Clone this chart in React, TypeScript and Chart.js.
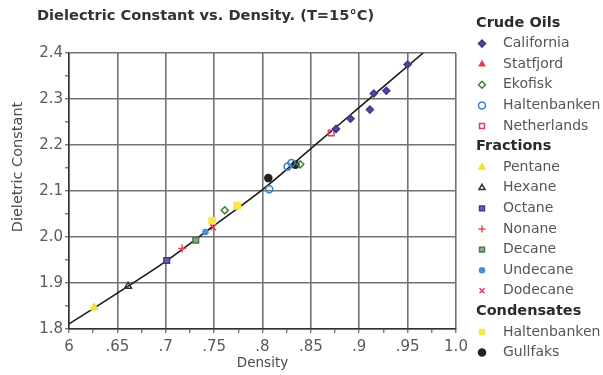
import React, { useEffect, useRef } from 'react';
import { Chart, registerables } from 'chart.js';
import { drawPoint } from 'chart.js/helpers';

Chart.register(...registerables);

// ---- data ----
const california = [[0.876, 2.235], [0.891, 2.257], [0.911, 2.277], [0.915, 2.312], [0.928, 2.318], [0.950, 2.375]];
const statfjord: number[][] = [];
const ekofisk = [[0.761, 2.058], [0.839, 2.158]];
const haltenbankenCrude = [[0.807, 2.104], [0.826, 2.153], [0.830, 2.161]];
const netherlands = [[0.871, 2.226]];
const pentane = [[0.626, 1.847]];
const hexane = [[0.661, 1.893]];
const octane = [[0.701, 1.949]];
const nonane = [[0.717, 1.975]];
const decane = [[0.731, 1.993]];
const undecane = [[0.741, 2.011]];
const dodecane = [[0.749, 2.021]];
const haltenbankenCond = [[0.748, 2.035], [0.774, 2.068]];
const gullfaks = [[0.806, 2.128], [0.834, 2.157]];

const fitX = [0.6, 0.65, 0.7, 0.75, 0.8, 0.85, 0.9, 0.966];
const fitY = [1.811, 1.878, 1.947, 2.025, 2.103, 2.192, 2.282, 2.4];

const xMajorTicks = [0.6, 0.65, 0.7, 0.75, 0.8, 0.85, 0.9, 0.95, 1.0];
const xTickLabels = ['6', '.65', '.7', '.75', '.8', '.85', '.9', '.95', '1.0'];
const xMinorTicks = [0.625, 0.675, 0.725, 0.775, 0.825, 0.875, 0.925, 0.975];
const yMajorTicks = [1.8, 1.9, 2.0, 2.1, 2.2, 2.3, 2.4];
const yTickLabels = ['1.8', '1.9', '2.0', '2.1', '2.2', '2.3', '2.4'];
const yMinorTicks = [1.85, 1.95, 2.05, 2.15, 2.25, 2.35];

const titleText = 'Dielectric Constant vs. Density. (T=15°C)';
const xTitle = 'Density';
const yTitle = 'Dieletric Constant';

const groups = [
  { heading: 'Crude Oils', items: ['California', 'Statfjord', 'Ekofisk', 'Haltenbanken', 'Netherlands'] },
  { heading: 'Fractions', items: ['Pentane', 'Hexane', 'Octane', 'Nonane', 'Decane', 'Undecane', 'Dodecane'] },
  { heading: 'Condensates', items: ['Haltenbanken ', 'Gullfaks'] },
];

const FONT = '"DejaVu Sans", sans-serif';

const pts = (arr: number[][]) => arr.map(([x, y]) => ({ x, y }));

const near = (list: number[], v: number) => list.findIndex((m) => Math.abs(m - v) < 1e-6);

const series = [
  { label: 'California', data: california, style: 'rectRot', fill: '#4b4b9c', stroke: '#3c3c8a', r: 3.5 },
  { label: 'Statfjord', data: statfjord, style: 'triangle', fill: '#e8384a', stroke: '#e8384a', r: 3 },
  { label: 'Ekofisk', data: ekofisk, style: 'rectRot', fill: 'rgba(0,0,0,0)', stroke: '#3f7f3f', r: 3.5 },
  { label: 'Haltenbanken', data: haltenbankenCrude, style: 'circle', fill: 'rgba(0,0,0,0)', stroke: '#3f7fc4', r: 3.5 },
  { label: 'Netherlands', data: netherlands, style: 'rect', fill: 'rgba(0,0,0,0)', stroke: '#d4405e', r: 4 },
  { label: 'Pentane', data: pentane, style: 'triangle', fill: '#f5e22a', stroke: '#f5e22a', r: 4 },
  { label: 'Hexane', data: hexane, style: 'triangle', fill: 'rgba(0,0,0,0)', stroke: '#333333', r: 4 },
  { label: 'Octane', data: octane, style: 'rect', fill: '#6a5fb8', stroke: '#3c3c8a', r: 4 },
  { label: 'Nonane', data: nonane, style: 'cross', fill: '#e84848', stroke: '#e84848', r: 4 },
  { label: 'Decane', data: decane, style: 'rect', fill: '#8fae8f', stroke: '#4f7a4f', r: 4 },
  { label: 'Undecane', data: undecane, style: 'circle', fill: '#4a8ad8', stroke: '#4a8ad8', r: 2.5 },
  { label: 'Dodecane', data: dodecane, style: 'crossRot', fill: '#e83a5a', stroke: '#e83a5a', r: 4 },
  { label: 'Haltenbanken ', data: haltenbankenCond, style: 'rect', fill: '#f8e84a', stroke: '#f8e84a', r: 4.5 },
  { label: 'Gullfaks', data: gullfaks, style: 'circle', fill: '#222222', stroke: '#222222', r: 3.5 },
];

const overlay = {
  id: 'overlay',
  afterDraw(chart: any) {
    const ctx = chart.ctx as CanvasRenderingContext2D;
    const area = chart.chartArea;
    ctx.save();
    ctx.textBaseline = 'middle';
    ctx.textAlign = 'left';
    ctx.fillStyle = '#333';
    ctx.font = `bold 14.6px ${FONT}`;
    ctx.fillText(titleText, 37, 16);

    // axis titles
    ctx.fillStyle = '#4a4a4a';
    ctx.font = `13.5px ${FONT}`;
    ctx.textAlign = 'center';
    ctx.fillText(xTitle, (area.left + area.right) / 2, 363);
    ctx.save();
    ctx.translate(18, 167);
    ctx.rotate(-Math.PI / 2);
    ctx.font = `14.5px ${FONT}`;
    ctx.fillText(yTitle, 0, 0);
    ctx.restore();

    ctx.textAlign = 'left';
    const step = 20.6;
    let y = 23;
    groups.forEach((g) => {
      ctx.fillStyle = '#2b2b2b';
      ctx.font = `bold 14.5px ${FONT}`;
      ctx.fillText(g.heading, 476, y);
      y += step;
      g.items.forEach((name) => {
        const ds = chart.data.datasets.find((d: any) => d.label === name);
        if (ds) {
          ctx.save();
          ctx.fillStyle = ds.backgroundColor;
          ctx.strokeStyle = ds.borderColor;
          ctx.lineWidth = 1.5;
          drawPoint(ctx, { pointStyle: ds.pointStyle, rotation: 0, radius: Math.min(ds.pointRadius, 3.5), borderWidth: 1.5 }, 482, y);
          ctx.restore();
        }
        ctx.fillStyle = '#555';
        ctx.font = `14px ${FONT}`;
        ctx.fillText(name.trim(), 503, y);
        y += step;
      });
    });
    ctx.restore();
  },
};

export default function App() {
  const ref = useRef<HTMLCanvasElement>(null);
  useEffect(() => {
    const datasets: any[] = series.map((s) => ({
      type: 'scatter',
      label: s.label,
      data: pts(s.data),
      pointStyle: s.style,
      backgroundColor: s.fill,
      borderColor: s.stroke,
      pointRadius: s.r,
      pointBorderWidth: 1.5,
    }));
    datasets.push({
      type: 'line',
      label: 'fit',
      data: fitX.map((x, i) => ({ x, y: fitY[i] })),
      borderColor: '#1a1a1a',
      borderWidth: 1.6,
      pointRadius: 0,
      tension: 0.3,
      fill: false,
      order: 10,
    });
    const chart = new Chart(ref.current!, {
      type: 'scatter',
      data: { datasets },
      options: {
        responsive: false,
        animation: false,
        layout: { padding: { top: 53, right: 147, left: 0, bottom: 0 } },
        plugins: { legend: { display: false }, title: { display: false }, tooltip: { enabled: false } },
        scales: {
          x: {
            type: 'linear',
            min: 0.6,
            max: 1.0,
            afterFit: (s: any) => { s.height = 46; },
            afterBuildTicks: (s: any) => {
              s.ticks = [...xMajorTicks, ...xMinorTicks].sort((a, b) => a - b).map((v) => ({ value: v }));
            },
            ticks: {
              autoSkip: false,
              maxRotation: 0,
              padding: 5,
              color: '#5a5a5a',
              font: { family: FONT, size: 15 },
              callback: (v: any) => { const i = near(xMajorTicks, Number(v)); return i >= 0 ? xTickLabels[i] : ''; },
            },
            grid: {
              color: (c: any) => (c.tick && near(xMajorTicks, c.tick.value) >= 0 ? '#727272' : 'rgba(0,0,0,0)'),
              lineWidth: 1.6,
              tickColor: '#444',
              tickLength: 4,
              tickWidth: 1,
            },
            border: { color: '#333', width: 1.5 },
          },
          y: {
            type: 'linear',
            min: 1.8,
            max: 2.4,
            afterFit: (s: any) => { s.width = 69; },
            afterBuildTicks: (s: any) => {
              s.ticks = [...yMajorTicks, ...yMinorTicks].sort((a, b) => a - b).map((v) => ({ value: v }));
            },
            ticks: {
              autoSkip: false,
              padding: 2,
              color: '#5a5a5a',
              font: { family: FONT, size: 15 },
              callback: (v: any) => { const i = near(yMajorTicks, Number(v)); return i >= 0 ? yTickLabels[i] : ''; },
            },
            grid: {
              color: (c: any) => (c.tick && near(yMajorTicks, c.tick.value) >= 0 ? '#727272' : 'rgba(0,0,0,0)'),
              lineWidth: 1.6,
              tickColor: '#444',
              tickLength: 4,
              tickWidth: 1,
            },
            border: { color: '#333', width: 1.5 },
          },
        },
      },
      plugins: [overlay],
    } as any);
    return () => chart.destroy();
  }, []);
  return (
    <div style={{ position: 'absolute', left: 0, top: 0, width: 603, height: 375, background: '#fff' }}>
      <canvas ref={ref} width={603} height={375} />
    </div>
  );
}
